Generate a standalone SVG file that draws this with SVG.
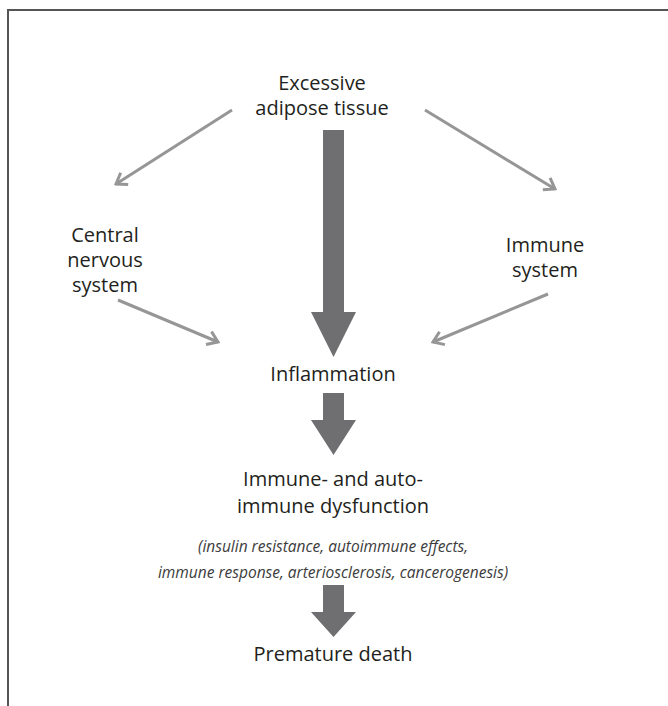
<svg xmlns="http://www.w3.org/2000/svg" width="668" height="706" viewBox="0 0 668 706">
<defs>
<style>
.t{font-family:"Open Sans","Noto Sans","Liberation Sans",sans-serif;font-size:20px;fill:#231f20;text-anchor:middle}
.i{font-family:"Open Sans","Noto Sans","Liberation Sans",sans-serif;font-size:15.5px;font-style:italic;fill:#3c3c3c;text-anchor:middle}
.thin{stroke:#969696;stroke-width:3;fill:none;marker-end:url(#ah)}
.big{fill:#6f6f71}
</style>
<marker id="ah" viewBox="-12 -9 14 18" refX="0" refY="0" markerWidth="14" markerHeight="18" markerUnits="userSpaceOnUse" orient="auto">
<path d="M-10,-7 L0,0 L-10,7" fill="none" stroke="#969696" stroke-width="3" stroke-linejoin="miter"/>
</marker>
</defs>
<rect width="668" height="706" fill="#fff"/>
<path d="M8,706 V10 H668" fill="none" stroke="#555" stroke-width="2"/>
<g id="connectors">
<line class="thin" x1="232" y1="110" x2="116" y2="184"/>
<line class="thin" x1="425" y1="110" x2="555" y2="189"/>
<line class="thin" x1="118" y1="300" x2="218" y2="342"/>
<line class="thin" x1="548" y1="294" x2="433" y2="342"/>
<path class="big" d="M323,130 H344 V312 H356 L333.5,357 L311,312 H323 Z"/>
<path class="big" d="M323,393 H344 V420 H356 L333.5,455 L311,420 H323 Z"/>
<path class="big" d="M323,585 H344 V612 H356 L333.5,637 L311,612 H323 Z"/>
</g>
<g id="adipose"><text class="t" x="322" y="90">Excessive</text><text class="t" x="322" y="115">adipose tissue</text></g>
<g id="cns"><text class="t" x="105" y="242">Central</text><text class="t" x="105" y="267">nervous</text><text class="t" x="105" y="292">system</text></g>
<g id="immune"><text class="t" x="545" y="252">Immune</text><text class="t" x="545" y="277">system</text></g>
<g id="inflammation"><text class="t" x="333" y="381">Inflammation</text></g>
<g id="dysfunction"><text class="t" x="333" y="486">Immune- and auto-</text><text class="t" x="333" y="513">immune dysfunction</text>
<text class="i" x="333" y="552">(insulin resistance, autoimmune effects,</text><text class="i" x="333" y="578">immune response, arteriosclerosis, cancerogenesis)</text></g>
<g id="death"><text class="t" x="333" y="661">Premature death</text></g>
</svg>
